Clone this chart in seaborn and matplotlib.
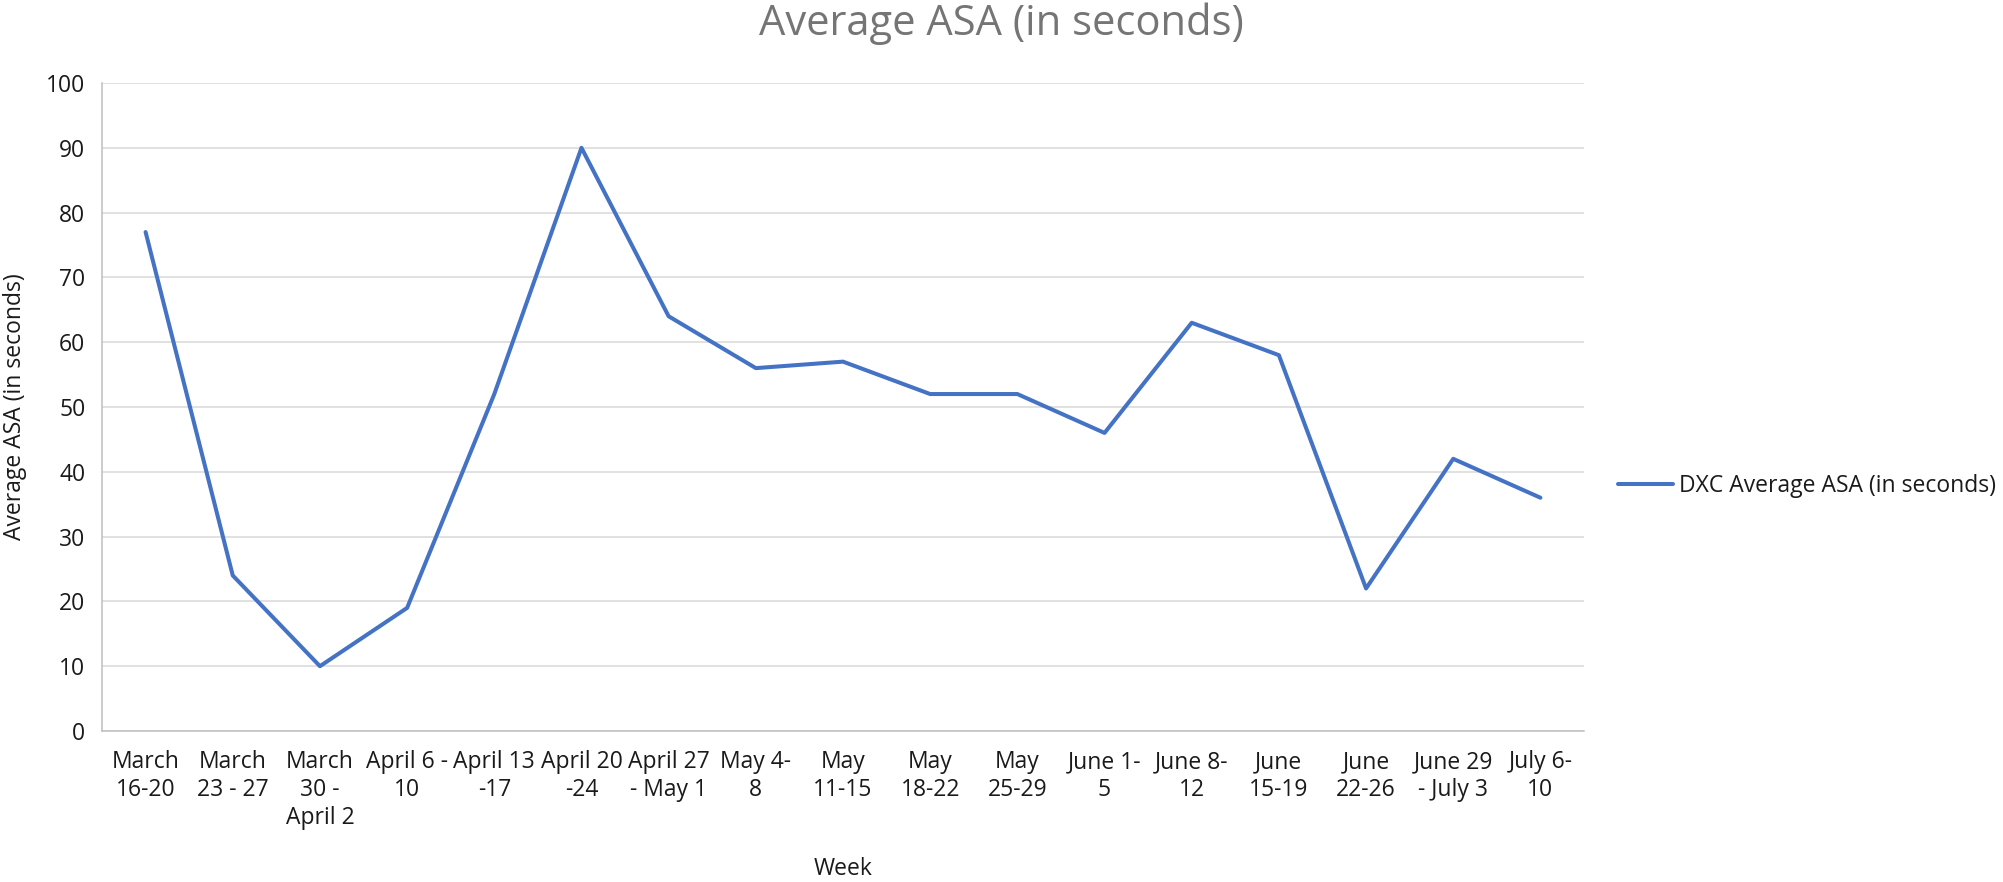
import matplotlib
matplotlib.use("Agg")
import matplotlib.pyplot as plt
import seaborn as sns
import pandas as pd

# weekly average speed of answer
weeks = [
    "March\n16-20", "March\n23 - 27", "March\n30 -\nApril 2", "April 6 -\n10",
    "April 13\n-17", "April 20\n-24", "April 27\n- May 1", "May 4-\n8",
    "May\n11-15", "May\n18-22", "May\n25-29", "June 1-\n5", "June 8-\n12",
    "June\n15-19", "June\n22-26", "June 29\n- July 3", "July 6-\n10",
]
asa = [77, 24, 10, 19, 52, 90, 64, 56, 57, 52, 52, 46, 63, 58, 22, 42, 36]
series_name = "DXC Average ASA (in seconds)"
yticks = [0, 10, 20, 30, 40, 50, 60, 70, 80, 90, 100]

df = pd.DataFrame({"week": weeks, "asa": asa})

sns.set_style("white")
plt.rcParams["font.family"] = ["Open Sans", "DejaVu Sans"]

fig = plt.figure(figsize=(20.03, 8.82), dpi=100)
ax = fig.add_axes([102 / 2003, 1 - 731 / 882, 1482 / 2003, 648 / 882])

sns.lineplot(data=df, x="week", y="asa", sort=False, ax=ax,
             color="#4472C4", linewidth=2.9, label=series_name, legend=False)

ax.set_xlim(-0.5, len(weeks) - 0.5)
ax.set_ylim(0, 100)
ax.set_yticks(yticks)
ax.grid(axis="y", color="#D9D9D9", linewidth=1.1)
ax.set_axisbelow(True)
for s in ["top", "right"]:
    ax.spines[s].set_visible(False)
for s in ["left", "bottom"]:
    ax.spines[s].set_color("#BFBFBF")
    ax.spines[s].set_linewidth(1.1)
ax.tick_params(axis="both", length=0, labelsize=16.5, colors="#1a1a1a")
ax.tick_params(axis="x", pad=14)
ax.tick_params(axis="y", pad=12)
for lbl in ax.get_xticklabels():
    lbl.set_multialignment("center")

ax.set_xlabel("Week", fontsize=16.5, color="#1a1a1a")
ax.xaxis.set_label_coords(0.5, -0.213)
ax.xaxis.label.set_va("center")
ax.set_ylabel("Average ASA (in seconds)", fontsize=16.5, color="#1a1a1a")
ax.yaxis.set_label_coords(-0.059, 0.5)
ax.yaxis.label.set_va("center")

fig.text(0.5, 1 - 24 / 882, "Average ASA (in seconds)", fontsize=30,
         color="#757575", ha="center", va="center")

handles, labels = ax.get_legend_handles_labels()
fig.legend(handles, labels, loc="center left", bbox_to_anchor=(1618 / 2003, 1 - 486 / 882),
           frameon=False, fontsize=16.5, handlelength=2.4, handletextpad=0.25,
           borderpad=0, borderaxespad=0, labelcolor="#1a1a1a")

fig.savefig("out.png", dpi=100)
